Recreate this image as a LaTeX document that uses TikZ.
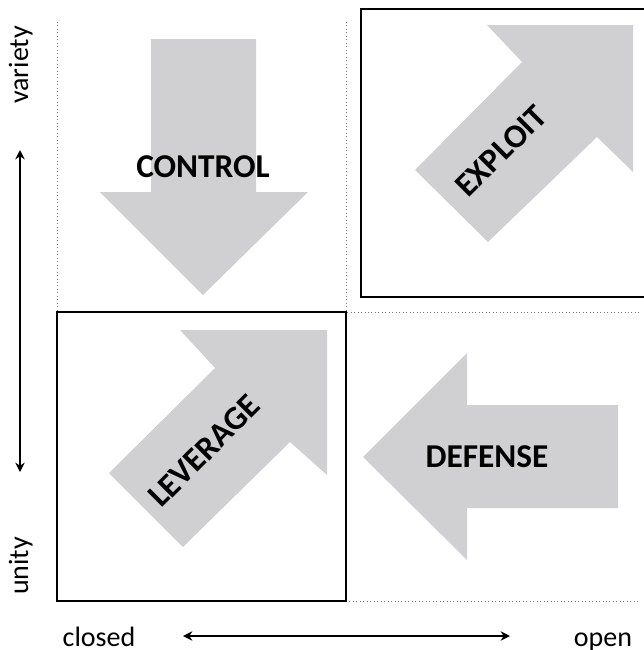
\documentclass[tikz,border=0pt]{standalone}
\usepackage{fontspec}
\setmainfont{Carlito}
\usepackage{tikz}
\usetikzlibrary{arrows.meta,positioning,calc}
\definecolor{flechegris}{RGB}{208,208,210}
\definecolor{grille}{RGB}{120,120,120}
\tikzset{
  fleche/.style={fill=flechegris, draw=none},
  cadre/.style={draw=black, line width=1.5pt},
  grid/.style={draw=grille, line width=0.6pt, dotted},
  etiq/.style={font=\fontsize{25}{30}\selectfont\bfseries, inner sep=0pt},
  axe/.style={font=\fontsize{21}{25}\selectfont, inner sep=0pt, anchor=base},
  axarr/.style={{Stealth[length=7pt,width=7pt]}-{Stealth[length=7pt,width=7pt]}, line width=1.5pt},
}
\begin{document}
\begin{tikzpicture}[x=0.75pt, y=-0.75pt]
    \useasboundingbox (0,0) rectangle (643,650);
    % quadrants
    \draw[grid] (57,22) -- (57,312);
    \draw[grid] (346,22) -- (346,312) -- (640,312);
    \draw[grid] (346,601) -- (640,601);
    \draw[cadre] (57,312) rectangle (346,601);
    \draw[cadre] (361,9) rectangle (645,297);
    % arrows
    \fill[fleche] (151,39) -- (256,39) -- (256,192) -- (308,192) -- (203,295)
      -- (100,192) -- (151,192) -- cycle;
    \fill[fleche] (633,25) -- (487,25) -- (522,62) -- (415,170) -- (488,242)
      -- (597,137) -- (633,172) -- cycle;
    \fill[fleche] (327,330) -- (180,330) -- (215,368) -- (109,473) -- (183,547)
      -- (290,442) -- (327,475) -- cycle;
    \fill[fleche] (363,457) -- (467,353) -- (467,405) -- (618,405) -- (618,508)
      -- (467,508) -- (467,560) -- cycle;
    % labels
    \node[etiq] (control) at (203,167) {CONTROL};
    \node[etiq, rotate=45] (exploit) at (501,151) {EXPLOIT};
    \node[etiq, rotate=45] (leverage) at (204,451) {LEVERAGE};
    \node[etiq] (defense) at (487,457) {DEFENSE};
    % axes
    \node[axe, rotate=90] (variety) at (28,65) {variety};
    \node[axe, rotate=90] (unity) at (28,566) {unity};
    \node[axe] (closed) at (99,646) {closed};
    \node[axe] (open) at (603,646) {open};
    \coordinate (vtop) at (20,150);
    \coordinate (vbot) at (20,472);
    \coordinate (hleft) at (183,636);
    \coordinate (hright) at (510,636);
    \draw[axarr] (vtop) -- (vbot);
    \draw[axarr] (hleft) -- (hright);
\end{tikzpicture}
\end{document}
